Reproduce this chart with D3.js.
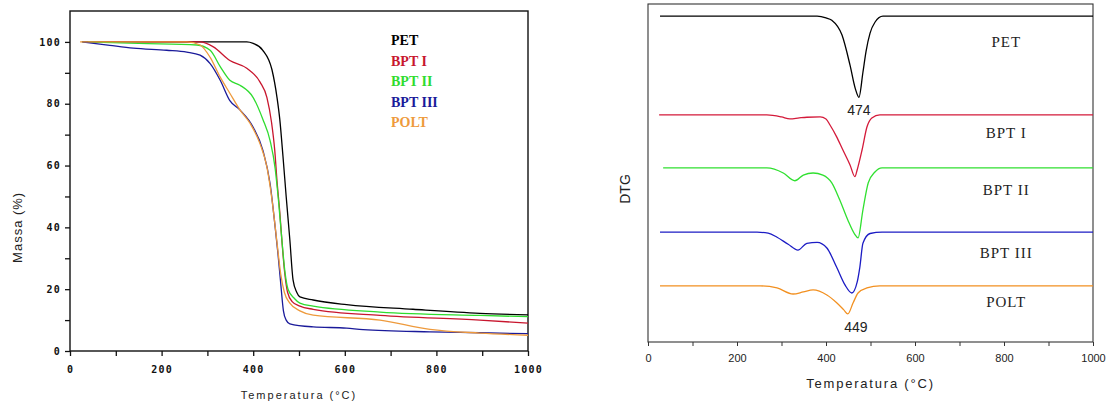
<!DOCTYPE html>
<html lang="pt">
<head>
<meta charset="utf-8">
<style>
  body { margin: 0; background: #fff; }
  svg { display: block; }
</style>
</head>
<body>
<script src="https://d3js.org/d3.v7.min.js"></script>
<script>
// ---- TG data: [temperatura °C, massa %] ----
const tgPET = [[26,100],[386,100],[400,99.5],[421,97.3],[441,91],[452,82],[458,75],[465,63],[472,50],[480,36],[487,23],[495,19],[502,17.5],[531,16.5],[604,15],[749,13.5],[895,12.2],[1000,11.7]];
const tgBPT1 = [[40,100],[284,100],[313,98.4],[349,94],[386,91.5],[415,87],[430,82],[440,74],[447,65],[452,55],[458,45],[463,35],[469,25],[475,19],[485,16],[502,14.5],[531,13.5],[677,11.5],[895,10],[1000,9]];
const tgBPT2 = [[40,100],[150,99.5],[277,99],[306,97.3],[328,92],[349,87.6],[371,86],[400,82],[421,75],[437,68],[448,59],[455,49],[462,37],[469,26],[476,20],[490,17],[502,15.5],[531,14.5],[677,12.6],[895,11.5],[1000,11.1]];
const tgBPT3 = [[28,100],[87,98.9],[138,98],[211,97.3],[255,96.7],[284,95.7],[306,93],[328,87.6],[349,81],[371,78],[400,72.4],[421,65],[437,54],[448,40],[454,31.6],[460,22],[466,13],[472,10],[480,8.8],[531,7.8],[604,7.4],[640,6.9],[786,6.2],[895,5.9],[1000,5.6]];
const tgPOLT = [[22,100],[255,100],[284,99],[306,95],[328,88.6],[349,83.4],[371,78],[393,73.7],[415,67],[430,59.5],[441,49],[452,35],[460,25],[468,19],[480,15.5],[502,13],[531,11.6],[677,10],[786,7],[895,5.8],[1000,5.1]];

// ---- DTG data: [temperatura °C, profundidade (u.a.)], deslocadas por dtgOffsets ----
const dtgPET = [[27,0],[380,0],[400,0.5],[413,1.2],[436,5.6],[454,14.5],[466,21.5],[474,24],[483,16.6],[490,10.4],[499,5],[510,1.8],[528,0],[1000,0]];
const dtgBPT1 = [[25,0],[267,0],[300,0.6],[319,1.2],[340,0.9],[357,0.7],[387,0.6],[400,1.2],[409,3],[424,6.5],[438,10.4],[454,14.8],[465,18.3],[470,16.3],[481,10.4],[492,3.6],[503,0.9],[521,0],[1000,0]];
const dtgBPT2 = [[34,0],[267,0],[304,1.5],[330,3.8],[349,2.1],[371,1.5],[393,2.1],[413,4.4],[431,9.5],[449,15.4],[464,19.5],[472,20.7],[483,12.4],[495,4.4],[510,1.2],[526,0],[1000,0]];
const dtgBPT3 = [[27,0],[245,0],[270,0.3],[290,1.5],[315,3.6],[337,5.3],[357,3.3],[380,3.0],[402,4.7],[424,10.4],[443,15.7],[458,18.0],[470,14.8],[476,10.4],[483,3.3],[499,0.4],[526,0],[1000,0]];
const dtgPOLT = [[27,0],[252,0],[290,0.6],[326,2.4],[349,1.8],[371,1.2],[402,2.7],[424,5.0],[440,7.1],[449,8.3],[461,5.0],[472,2.1],[492,0.6],[521,0],[1000,0]];
const dtgOffsets = [96.4, 67.2, 51.5, 32.5, 16.6];

const seriesNames = ["PET", "BPT I", "BPT II", "BPT III", "POLT"];
const tgColors = ["#000000", "#c8162e", "#2fdc2f", "#1a1a9a", "#ee9a3c"];
const dtgColors = ["#000000", "#d41a3a", "#30e030", "#1c1cc4", "#f29020"];
const xTicks = [0, 100, 200, 300, 400, 500, 600, 700, 800, 900, 1000];
const yTicksTG = [0, 10, 20, 30, 40, 50, 60, 70, 80, 90, 100];
const peakLabels = [["474", 0, 474], ["449", 4, 449]];

const tgData = [tgPET, tgBPT1, tgBPT2, tgBPT3, tgPOLT];
const dtgData = [dtgPET, dtgBPT1, dtgBPT2, dtgBPT3, dtgPOLT];

const svg = d3.select("body").append("svg")
  .attr("width", 1112).attr("height", 409);

// ================= TG (left) =================
const x1 = d3.scaleLinear().domain([0, 1000]).range([70, 528]);
const y1 = d3.scaleLinear().domain([0, 110]).range([351, 11]);

const g1 = svg.append("g");

g1.append("rect")
  .attr("x", x1(0)).attr("y", y1(110))
  .attr("width", x1(1000) - x1(0)).attr("height", y1(0) - y1(110))
  .attr("fill", "none").attr("stroke", "#111").attr("stroke-width", 1.4);

const tickFont = "'DejaVu Sans Mono', monospace";

const ax1 = g1.append("g")
  .attr("transform", "translate(0," + y1(0) + ")")
  .call(d3.axisBottom(x1).tickValues(xTicks)
    .tickFormat(d => d % 200 === 0 ? d : "").tickSize(5).tickPadding(10));
const ay1 = g1.append("g")
  .attr("transform", "translate(" + x1(0) + ",0)")
  .call(d3.axisLeft(y1).tickValues(yTicksTG)
    .tickFormat(d => d % 20 === 0 ? d : "").tickSize(5).tickPadding(4));

[ax1, ay1].forEach(a => {
  a.select(".domain").remove();
  a.selectAll("line").attr("stroke", "#111").attr("stroke-width", 1.3);
  a.selectAll("text")
    .style("font-family", tickFont).style("font-weight", "bold")
    .style("font-size", "10px").style("letter-spacing", "1.2px").attr("fill", "#111");
});

const line1 = d3.line()
  .x(d => x1(d[0])).y(d => y1(d[1]))
  .curve(d3.curveMonotoneX);

g1.selectAll("path.tg")
  .data(tgData)
  .enter()
  .append("path")
  .attr("class", "tg")
  .attr("d", line1)
  .attr("fill", "none")
  .attr("stroke", (d, i) => tgColors[i])
  .attr("stroke-width", 1.3);

g1.selectAll("text.leg")
  .data(seriesNames)
  .enter()
  .append("text")
  .attr("class", "leg")
  .attr("x", 391)
  .attr("y", (d, i) => 45 + i * 20.5)
  .attr("fill", (d, i) => tgColors[i])
  .style("font-family", "'Liberation Serif', serif")
  .style("font-weight", "bold")
  .style("font-size", "14px")
  .text(d => d);

g1.append("text")
  .attr("x", x1(500)).attr("y", 399)
  .attr("text-anchor", "middle")
  .style("font-family", "Arial, 'Liberation Sans', sans-serif")
  .style("font-size", "11px").style("letter-spacing", "2px")
  .attr("fill", "#222")
  .text("Temperatura (°C)");

g1.append("text")
  .attr("transform", "translate(22," + y1(40) + ") rotate(-90)")
  .attr("text-anchor", "middle")
  .style("font-family", "Arial, 'Liberation Sans', sans-serif")
  .style("font-size", "13px").style("letter-spacing", "1px")
  .attr("fill", "#222")
  .text("Massa (%)");

// ================= DTG (right) =================
const x2 = d3.scaleLinear().domain([0, 1000]).range([648, 1093]);
const y2 = d3.scaleLinear().domain([0, 100]).range([342, 4]);

const g2 = svg.append("g");

g2.append("rect")
  .attr("x", x2(0)).attr("y", y2(100))
  .attr("width", x2(1000) - x2(0)).attr("height", y2(0) - y2(100))
  .attr("fill", "none").attr("stroke", "#333").attr("stroke-width", 1.1);

const ax2 = g2.append("g")
  .attr("transform", "translate(0," + y2(0) + ")")
  .call(d3.axisBottom(x2).tickValues(xTicks)
    .tickFormat(d => d % 200 === 0 ? d : "").tickSize(4).tickPadding(8));
ax2.select(".domain").remove();
ax2.selectAll("line").attr("stroke", "#333");
ax2.selectAll("text")
  .style("font-family", "Arial, 'Liberation Sans', sans-serif")
  .style("font-size", "11px").attr("fill", "#222");

const line2 = (off) => d3.line()
  .x(d => x2(d[0])).y(d => y2(off - d[1]))
  .curve(d3.curveMonotoneX);

g2.selectAll("path.dtg")
  .data(dtgData)
  .enter()
  .append("path")
  .attr("class", "dtg")
  .attr("d", (d, i) => line2(dtgOffsets[i])(d))
  .attr("fill", "none")
  .attr("stroke", (d, i) => dtgColors[i])
  .attr("stroke-width", 1.3);

const labelDy = [31, 23, 27, 26, 21];
g2.selectAll("text.lab")
  .data(seriesNames)
  .enter()
  .append("text")
  .attr("class", "lab")
  .attr("x", x2(805))
  .attr("y", (d, i) => y2(dtgOffsets[i]) + labelDy[i])
  .attr("text-anchor", "middle")
  .style("font-family", "'Liberation Serif', 'Times New Roman', serif")
  .style("font-size", "15px").style("letter-spacing", "1px")
  .attr("fill", "#222")
  .text(d => d);

peakLabels.forEach(p => {
  const s = dtgData[p[1]];
  const depth = d3.max(s, d => d[1]);
  g2.append("text")
    .attr("x", x2(p[2]) + (p[1] === 0 ? 0 : 8))
    .attr("y", y2(dtgOffsets[p[1]] - depth) + 18)
    .attr("text-anchor", "middle")
    .style("font-family", "Arial, 'Liberation Sans', sans-serif")
    .style("font-size", "14px")
    .attr("fill", "#222")
    .text(p[0]);
});

g2.append("text")
  .attr("x", x2(500)).attr("y", 388)
  .attr("text-anchor", "middle")
  .style("font-family", "Arial, 'Liberation Sans', sans-serif")
  .style("font-size", "13px").style("letter-spacing", "1.8px")
  .attr("fill", "#222")
  .text("Temperatura (°C)");

g2.append("text")
  .attr("transform", "translate(630,189) rotate(-90)")
  .attr("text-anchor", "middle")
  .style("font-family", "Arial, 'Liberation Sans', sans-serif")
  .style("font-size", "14px")
  .attr("fill", "#222")
  .text("DTG");
</script>
</body>
</html>
